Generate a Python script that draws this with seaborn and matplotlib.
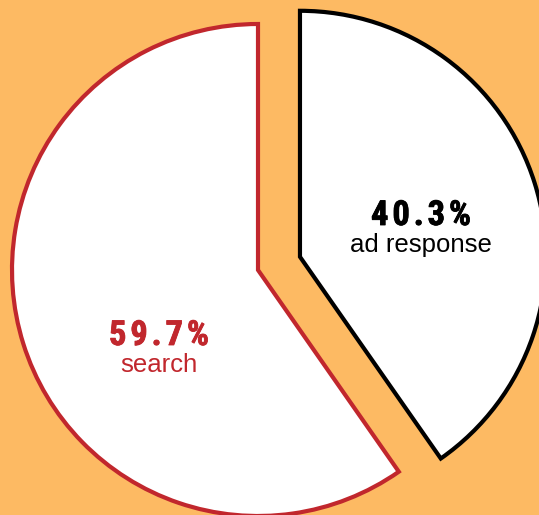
import matplotlib
matplotlib.use("Agg")
import matplotlib.pyplot as plt
import matplotlib.patheffects as pe
from matplotlib import font_manager
from matplotlib.font_manager import FontProperties
from matplotlib.textpath import TextPath
import seaborn as sns

# Share of sessions by how the user arrived
categories = ["search", "ad response"]
shares = [59.7, 40.3]
edge_colors = ["#C1272D", "#000000"]
text_colors = ["#C1272D", "#000000"]

BG = "#FDBA63"

sns.set_theme(style="white")
plt.rcParams["font.family"] = ["Liberation Sans", "DejaVu Sans"]


def weight_of(f):
    if isinstance(f.weight, int):
        return f.weight
    return 700 if "bold" in str(f.weight).lower() else 400


def narrow_bold():
    """Pick a bold condensed face for the big percentages."""
    prefs = ["Oswald", "Roboto Condensed", "PT Sans Narrow", "Liberation Sans Narrow"]
    fonts = [f for f in font_manager.fontManager.ttflist if weight_of(f) >= 600]
    for p in prefs:
        hits = [f for f in fonts if f.name == p or p.replace(" ", "") in f.fname.replace("_", "").replace(" ", "")]
        if hits:
            hits.sort(key=lambda f: abs(weight_of(f) - 700))
            return hits[0]
    return None


nb = narrow_bold()
base = FontProperties(fname=nb.fname) if nb else FontProperties(family="DejaVu Sans", weight="bold")

# size the percentage face so capitals are about 24 px tall
cap = TextPath((0, 0), "H", size=10, prop=base).get_extents().height / 10
pct_font = base.copy()
pct_font.set_size(24.5 * 72 / 100 / cap)

W, H = 539, 515
fig = plt.figure(figsize=(W / 100, H / 100), dpi=100, facecolor=BG)
ax = fig.add_axes([0, 0, 1, 1])
ax.set_facecolor(BG)

cx, cy, r = 258, 245, 246
wedges, _ = ax.pie(
    shares,
    startangle=90,
    counterclock=True,
    explode=[0, 44],
    radius=r,
    center=(cx, cy),
    colors=["white", "white"],
    wedgeprops=dict(linewidth=3.0, joinstyle="miter"),
    frame=True,
)
for w, ec in zip(wedges, edge_colors):
    w.set_edgecolor(ec)

ax.set_xlim(0, W)
ax.set_ylim(0, H)
ax.set_aspect("equal")
ax.axis("off")

renderer = fig.canvas.get_renderer()


def tracked_text(x, y, s, color, fp, span):
    """Draw s centred on x, spaced out to cover `span` pixels, in a heavy stroke."""
    arts, widths = [], []
    for ch in s:
        t = ax.text(0, y, ch, ha="left", va="baseline", color=color, fontproperties=fp,
                    path_effects=[pe.withStroke(linewidth=0.6, foreground=color)])
        widths.append(t.get_window_extent(renderer).width)
        arts.append(t)
    tracking = max(0.0, (span - sum(widths)) / (len(s) - 1))
    total = sum(widths) + tracking * (len(s) - 1)
    pos = x - total / 2
    for t, wdt in zip(arts, widths):
        t.set_x(pos)
        pos += wdt + tracking


label_pos = [(159, 170), (421, 290)]
for (x, y), name, val, col in zip(label_pos, categories, shares, text_colors):
    tracked_text(x, y, f"{val:.1f}%", col, pct_font, 100)
    ax.text(x, y - 27, name, ha="center", va="baseline", color=col, fontsize=18.5)

fig.savefig("out.png", dpi=100, facecolor=BG)
